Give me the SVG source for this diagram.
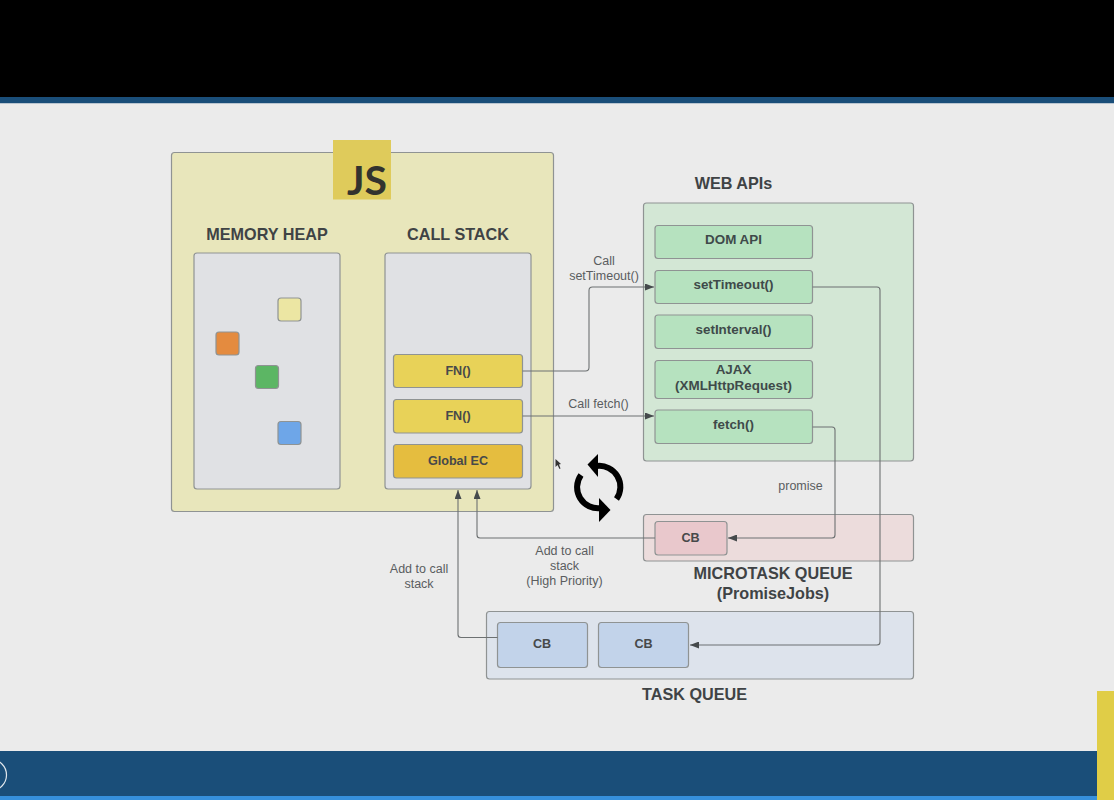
<svg xmlns="http://www.w3.org/2000/svg" width="1114" height="800" viewBox="0 0 1114 800">
<defs>
<marker id="arr" markerUnits="userSpaceOnUse" markerWidth="10" markerHeight="7" refX="9" refY="3.500" orient="auto"><path d="M0,0 L9,3.500 L0,7 Z" fill="#454a4c"/></marker>
</defs>
<style>
text{font-family:"Liberation Sans",Arial,sans-serif;text-anchor:middle}
.box{stroke:#8f9393;stroke-width:1.2}
.h{font-size:16.2px;font-weight:700;fill:#3f4345}
.n{font-size:13.4px;font-weight:700;fill:#3f4a4a}
.s{font-size:12.6px;font-weight:700;fill:#47494a}
.l{font-size:12.5px;fill:#5a5d5f}
.c{fill:none;stroke:#6d7172;stroke-width:1.1;stroke-linejoin:round}
</style>
<rect width="1114" height="800" fill="#ebebeb"/>
<rect width="1114" height="97" fill="#000"/>
<rect y="97" width="1114" height="6" fill="#1a4e79"/>
<rect y="103" width="1114" height="1" fill="#b9c5d0"/>
<rect y="751" width="1114" height="45" fill="#1a4e79"/>
<rect y="796" width="1114" height="4" fill="#3690dc"/>
<circle cx="-9" cy="775" r="15.5" fill="none" stroke="#dfe6ec" stroke-width="1.2"/>
<rect x="1097" y="691" width="17" height="109" fill="#e0cd47"/>

<g id="js-engine"><rect class="box" x="171.500" y="152.500" width="382" height="359" rx="3" fill="#e8e6bb"/></g>
<g id="js-logo"><rect x="333" y="140" width="58" height="59.500" fill="#dfcb5b"/><text x="367" y="195" style="font-family:Lato,'Open Sans',sans-serif;font-size:41px;font-weight:700" fill="#33332e">JS</text></g>

<g id="memory-heap"><text class="h" x="267" y="240">MEMORY HEAP</text><rect class="box" x="194" y="253" width="146" height="236" rx="3" fill="#e0e1e4"/></g>
<g id="heap-yellow"><rect class="box" x="278" y="298" width="23" height="23" rx="3" fill="#ece6a3"/></g>
<g id="heap-orange"><rect class="box" x="216" y="332" width="23" height="23" rx="3" fill="#e48b3f"/></g>
<g id="heap-green"><rect class="box" x="255.500" y="365.500" width="23" height="23" rx="3" fill="#5cb664"/></g>
<g id="heap-blue"><rect class="box" x="278" y="421.500" width="23" height="23" rx="3" fill="#6ea6e8"/></g>

<g id="call-stack"><text class="h" x="458" y="240">CALL STACK</text><rect class="box" x="385" y="253" width="146" height="236" rx="3" fill="#e0e1e4"/></g>
<g id="fn1"><rect class="box" x="393.500" y="354.500" width="129" height="33" rx="3" fill="#e8d258"/><text class="s" x="458" y="375">FN()</text></g>
<g id="fn2"><rect class="box" x="393.500" y="399.500" width="129" height="33.500" rx="3" fill="#e8d258"/><text class="s" x="458" y="420">FN()</text></g>
<g id="global-ec"><rect class="box" x="393.500" y="444.500" width="129" height="33.500" rx="3" fill="#e5bd3f"/><text class="s" x="458" y="464.500">Global EC</text></g>

<g id="web-apis"><text class="h" x="733.500" y="189">WEB APIs</text><rect class="box" x="643.500" y="203" width="270" height="258" rx="3" fill="#d3e7d5"/></g>
<g id="dom-api"><rect class="box" x="655" y="225.500" width="157.500" height="33" rx="3" fill="#b6e2bf"/><text class="n" x="733.500" y="244">DOM API</text></g>
<g id="settimeout"><rect class="box" x="655" y="270.500" width="157.500" height="33" rx="3" fill="#b6e2bf"/><text class="n" x="733.500" y="289">setTimeout()</text></g>
<g id="setinterval"><rect class="box" x="655" y="315" width="157.500" height="33.500" rx="3" fill="#b6e2bf"/><text class="n" x="733.500" y="334">setInterval()</text></g>
<g id="ajax"><rect class="box" x="655" y="360.500" width="157.500" height="38" rx="3" fill="#b6e2bf"/><text class="n" x="733.500" y="374">AJAX</text><text class="n" x="733.500" y="390">(XMLHttpRequest)</text></g>
<g id="fetch"><rect class="box" x="655" y="410" width="157.500" height="33.500" rx="3" fill="#b6e2bf"/><text class="n" x="733.500" y="429">fetch()</text></g>

<g id="microtask-queue"><rect class="box" x="643.500" y="514.500" width="270" height="46.500" rx="3" fill="#ecdcdc"/><text class="h" x="773" y="579">MICROTASK QUEUE</text><text class="h" x="773" y="599">(PromiseJobs)</text></g>
<g id="micro-cb"><rect class="box" x="655" y="521.500" width="72" height="33.500" rx="3" fill="#e9c8cc"/><text class="s" x="690.500" y="541.500">CB</text></g>
<g id="task-queue"><rect class="box" x="486.500" y="611.500" width="427" height="67.500" rx="3" fill="#dde3ec"/><text class="h" x="694.500" y="700">TASK QUEUE</text></g>
<g id="task-cb1"><rect class="box" x="497.500" y="622.500" width="90" height="45" rx="3" fill="#c2d3ea"/><text class="s" x="542" y="648">CB</text></g>
<g id="task-cb2"><rect class="box" x="598.500" y="622.500" width="90" height="45" rx="3" fill="#c2d3ea"/><text class="s" x="643.500" y="648">CB</text></g>

<g id="connectors">
<path class="c" marker-end="url(#arr)" d="M522.500 371H585.500Q589 371 589 367.500V290.500Q589 287 592.500 287H654"/>
<path class="c" marker-end="url(#arr)" d="M522.500 416H654"/>
<path class="c" marker-end="url(#arr)" d="M812.500 287H877Q880 287 880 290V642Q880 645 877 645H690"/>
<path class="c" marker-end="url(#arr)" d="M812.500 427H832Q835 427 835 430V535Q835 538 832 538H728"/>
<path class="c" d="M655 538H480Q477 538 477 535V490" marker-end="url(#arr)"/>
<path class="c" d="M497.500 637.500H461Q458 637.500 458 634.500V490" marker-end="url(#arr)"/>
</g>

<text class="l" x="604" y="265">Call</text>
<text class="l" x="604" y="280">setTimeout()</text>
<text class="l" x="598.500" y="407.500">Call fetch()</text>
<text class="l" x="800.500" y="490">promise</text>
<text class="l" x="564.500" y="555">Add to call</text>
<text class="l" x="564.500" y="570">stack</text>
<text class="l" x="564.500" y="585">(High Priority)</text>
<text class="l" x="419" y="573">Add to call</text>
<text class="l" x="419" y="588">stack</text>

<g id="cycle-icon">
<path d="M597 466A21 21 0 0 1 616.500 499" fill="none" stroke="#000" stroke-width="6"/>
<path d="M581 475A21 21 0 0 0 601 508" fill="none" stroke="#000" stroke-width="6"/>
<path d="M587.500 464.500L598 454L598 477Z" fill="#000"/>
<path d="M610.500 510L599 498L599 522Z" fill="#000"/>
</g>
<path d="M555.500 459L555.500 467L557.500 465L559.500 469L560.500 468.500L559 464.500L561 464Z" fill="#333"/>
</svg>
